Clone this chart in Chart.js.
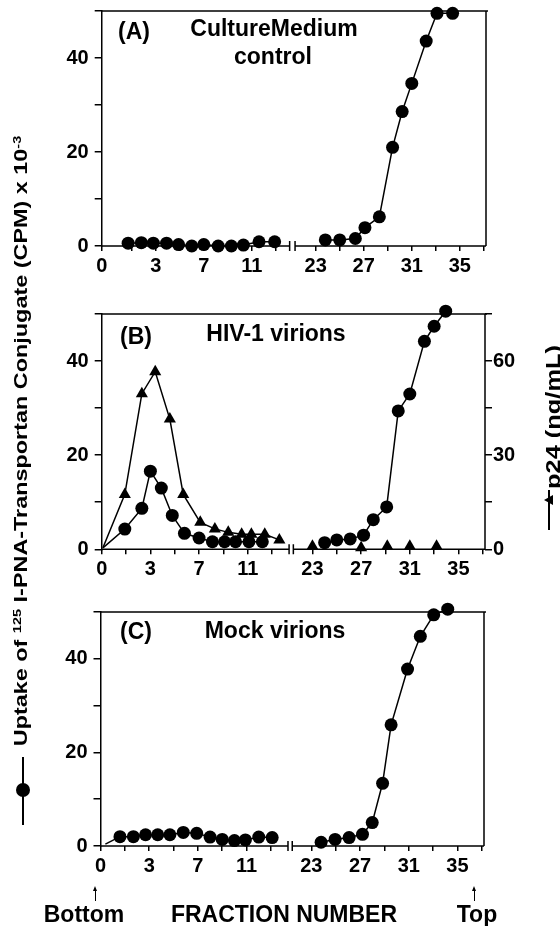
<!DOCTYPE html>
<html>
<head>
<meta charset="utf-8">
<script src="https://cdn.jsdelivr.net/npm/chart.js@4.4.1/dist/chart.umd.min.js"></script>
<style>
  body { margin: 0; background: #fff; width: 560px; height: 926px; overflow: hidden; position: relative;
         font-family: "Liberation Sans", Arial, sans-serif; font-weight: bold; color: #000; }
  canvas { position: absolute; left: 0; }
  .t { position: absolute; font-size: 23px; line-height: 1; white-space: nowrap; transform: translateY(-50%); }
  .c { transform: translate(-50%, -50%); }
  .rot { position: absolute; white-space: nowrap; line-height: 1; }
  .rot sup { font-size: 0.62em; vertical-align: 0.55em; }
  .shaft { position: absolute; width: 1px; height: 11px; background: #000; }
  .head { position: absolute; width: 0; height: 0; border-left: 2.5px solid transparent;
          border-right: 2.5px solid transparent; border-bottom: 5px solid #000; }
</style>
</head>
<body>
<canvas id="panelA" width="560" height="300" style="top:0"></canvas>
<canvas id="panelB" width="560" height="300" style="top:300px"></canvas>
<canvas id="panelC" width="560" height="326" style="top:600px"></canvas>

<div class="t" style="left:118px;top:31px">(A)</div>
<div class="t c" style="left:274px;top:28px">CultureMedium</div>
<div class="t c" style="left:273px;top:56px">control</div>
<div class="t" style="left:120px;top:336px">(B)</div>
<div class="t c" style="left:276px;top:333px">HIV-1 virions</div>
<div class="t" style="left:120px;top:631px">(C)</div>
<div class="t c" style="left:275px;top:630px">Mock virions</div>

<div class="rot" style="left:21px;top:441px;font-size:18px;transform:translate(-50%,-50%) rotate(-90deg) scaleX(1.3)">Uptake of <sup>125</sup> I-PNA-Transportan Conjugate (CPM) x 10<sup>-3</sup></div>
<div style="position:absolute;left:22px;top:757px;width:1.5px;height:68px;background:#000"></div>
<div style="position:absolute;left:16px;top:783px;width:14px;height:14px;border-radius:50%;background:#000"></div>

<div class="rot" style="left:553px;top:417px;font-size:20px;transform:translate(-50%,-50%) rotate(-90deg) scaleX(1.27)">p24 (ng/mL)</div>
<div style="position:absolute;left:548px;top:490px;width:1.5px;height:40px;background:#000"></div>
<div style="position:absolute;left:544px;top:495px;width:0;height:0;border-top:5px solid transparent;border-bottom:5px solid transparent;border-right:9px solid #000"></div>

<div class="head" style="left:92.5px;top:886px"></div>
<div class="shaft" style="left:94.5px;top:890px"></div>
<div class="head" style="left:472px;top:886px"></div>
<div class="shaft" style="left:474px;top:890px"></div>
<div class="t c" style="left:84px;top:914px">Bottom</div>
<div class="t c" style="left:284px;top:914px">FRACTION NUMBER</div>
<div class="t c" style="left:477px;top:914px">Top</div>

<script>
// broken fraction axis: the right part is shifted left by GAP, the "0" label sits at the origin
const GAP = 6.68;
const xTickFractions = [1, 3, 5, 7, 9, 11, 13, 23, 25, 27, 29, 31, 33, 35, 37];
const xTickLabels = ['0', '', '3', '', '7', '', '11', '', '23', '', '27', '', '31', '', '35', ''];

// (A) Culture medium control
const aLeftFrac = [0.7, 1.8, 2.8, 3.9, 4.9, 6.0, 7.0, 8.2, 9.3, 10.3, 11.6, 12.9];
const aLeftCpm = [0.6, 0.7, 0.6, 0.6, 0.3, 0, 0.3, 0, 0, 0.2, 0.9, 0.9];
const aRightFrac = [23.8, 25.0, 26.3, 27.1, 28.3, 29.4, 30.2, 31.0, 32.2, 33.1, 34.4];
const aRightCpm = [1.3, 1.3, 1.6, 3.9, 6.2, 21.0, 28.6, 34.6, 43.6, 49.5, 49.5];

// (B) HIV-1 virions (first point is the origin, no marker)
const bLeftFrac = [-0.9, 0.9, 2.3, 3.0, 3.9, 4.8, 5.8, 7.0, 8.1, 9.1, 10.0, 11.1, 12.2];
const bLeftCpm = [0.3, 4.3, 8.7, 16.6, 13.0, 7.2, 3.4, 2.4, 1.6, 1.6, 1.6, 1.6, 1.6];
const bRightFrac = [24.0, 25.0, 26.1, 27.2, 28.0, 29.1, 30.05, 31.0, 32.2, 33.0, 33.95];
const bRightCpm = [1.4, 2.0, 2.2, 3.0, 6.3, 9.0, 29.4, 33.0, 44.2, 47.4, 50.6];
const bLeftP24Frac = [-0.9, 0.9, 2.3, 3.4, 4.6, 5.7, 7.1, 8.3, 9.4, 10.5, 11.3, 12.4, 13.6];
const bLeftP24 = [0.5, 17.5, 49.6, 56.6, 41.5, 17.5, 8.6, 6.5, 5.4, 4.8, 4.8, 4.8, 3.0];
const bRightP24Frac = [23.0, 27.0, 29.15, 31.0, 33.2];
const bRightP24 = [1, 0.5, 1, 1, 1];

// (C) Mock virions (first point has no marker)
const cLeftFrac = [-0.6, 0.6, 1.7, 2.7, 3.7, 4.7, 5.8, 6.9, 8.0, 9.0, 10.0, 10.9, 12.0, 13.1];
const cLeftCpm = [0.4, 2.0, 2.0, 2.4, 2.4, 2.4, 2.9, 2.7, 1.9, 1.4, 1.15, 1.3, 1.9, 1.8];
const cRightFrac = [23.8, 24.95, 26.1, 27.2, 28.0, 28.85, 29.55, 30.9, 31.95, 33.05, 34.2];
const cRightCpm = [0.8, 1.4, 1.8, 2.5, 5.0, 13.4, 25.9, 37.8, 44.8, 49.4, 50.6];

const FONT = { family: '"Liberation Sans", Arial, sans-serif', size: 20, weight: 'bold' };

const toPos = f => (f > 18 ? f - GAP : f);

function series(fracs, vals, opts = {}) {
    return {
        data: fracs.map((f, i) => ({ x: toPos(f), y: vals[i] })),
        borderColor: '#000',
        backgroundColor: '#000',
        borderWidth: 1.5,
        pointStyle: opts.style || 'circle',
        pointRadius: fracs.map((f, i) => (opts.lead && i === 0 ? 0 : (opts.r || 6.5))),
        pointBorderWidth: 0,
        showLine: opts.line !== false,
        yAxisID: opts.axis || 'y',
        clip: false,
        tension: 0,
    };
}

const framePlugin = {
    id: 'frame',
    afterDraw(chart, args, opts) {
        const { ctx, chartArea: a } = chart;
        const x = chart.scales.x;
        const b1 = x.getPixelForValue(opts.brk[0]), b2 = x.getPixelForValue(opts.brk[1]);
        ctx.save();
        ctx.strokeStyle = '#000';
        ctx.lineWidth = 1.5;
        ctx.beginPath();
        ctx.moveTo(a.left, a.top); ctx.lineTo(a.right + 2, a.top);
        ctx.moveTo(a.right, a.top); ctx.lineTo(a.right, a.bottom);
        ctx.moveTo(a.left, a.bottom); ctx.lineTo(b1, a.bottom);
        ctx.moveTo(b2, a.bottom); ctx.lineTo(a.right, a.bottom);
        ctx.moveTo(b1, a.bottom - 5); ctx.lineTo(b1, a.bottom + 5);
        ctx.moveTo(b2, a.bottom - 5); ctx.lineTo(b2, a.bottom + 5);
        ctx.stroke();
        ctx.restore();
    }
};

function makePanel(id, datasets, box) {
    const tickVals = [box.xMin, ...xTickFractions.map(toPos)];
    const scales = {
        x: {
            type: 'linear', min: box.xMin, max: 30.5,
            afterFit: s => { s.height = box.xh; s.paddingLeft = 0; s.paddingRight = 0; },
            afterBuildTicks: s => { s.ticks = tickVals.map(v => ({ value: v })); },
            ticks: {
                callback: (v, i) => xTickLabels[i], autoSkip: false, maxRotation: 0,
                color: '#000', font: FONT, padding: 3,
            },
            grid: { drawOnChartArea: false, color: '#000', lineWidth: 1.5, tickLength: 5 },
            border: { display: false },
        },
        y: {
            min: 0, max: 50,
            afterFit: s => { s.width = box.left; s.paddingTop = 0; s.paddingBottom = 0; },
            ticks: {
                stepSize: 10, color: '#000', font: FONT, padding: 6,
                callback: v => (v % 20 === 0 && v < 50 ? v : ''),
            },
            grid: { drawOnChartArea: false, color: '#000', lineWidth: 1.5, tickLength: 7 },
            border: { color: '#000', width: 1.5 },
        },
    };
    if (box.p24) {
        scales.y2 = {
            position: 'right', min: 0, max: 75,
            afterFit: s => { s.width = 560 - box.right; s.paddingTop = 0; s.paddingBottom = 0; },
            ticks: {
                stepSize: 15, color: '#000', font: FONT, padding: 1,
                callback: v => (v % 30 === 0 ? v : ''),
            },
            grid: { drawOnChartArea: false, color: '#000', lineWidth: 1.5, tickLength: 7 },
            border: { display: false },
        };
    }
    return new Chart(document.getElementById(id), {
        type: 'line',
        data: { datasets },
        options: {
            responsive: false,
            animation: false,
            devicePixelRatio: 1,
            layout: { padding: { top: box.top, right: box.p24 ? 0 : 560 - box.right, left: 0, bottom: 0 } },
            plugins: { legend: { display: false }, tooltip: { enabled: false }, frame: { brk: box.brk } },
            scales,
        },
        plugins: [framePlugin],
    });
}

makePanel('panelA', [
    series(aLeftFrac, aLeftCpm),
    series(aRightFrac, aRightCpm),
], { left: 101.7, right: 486, top: 11, xh: 54, xMin: -1.5, brk: [14.15, 14.6] });

makePanel('panelB', [
    series(bLeftP24Frac, bLeftP24, { lead: true, style: 'triangle', r: 7, axis: 'y2' }),
    series(bRightP24Frac, bRightP24, { style: 'triangle', r: 7, axis: 'y2', line: false }),
    series(bLeftFrac, bLeftCpm, { lead: true }),
    series(bRightFrac, bRightCpm),
], { left: 101.7, right: 485, top: 14, xh: 50.7, p24: true, xMin: -1, brk: [14.4, 14.75] });

makePanel('panelC', [
    series(cLeftFrac, cLeftCpm, { lead: true }),
    series(cRightFrac, cRightCpm),
], { left: 100.5, right: 484, top: 12, xh: 80, xMin: -1, brk: [14.4, 14.75] });
</script>
</body>
</html>
